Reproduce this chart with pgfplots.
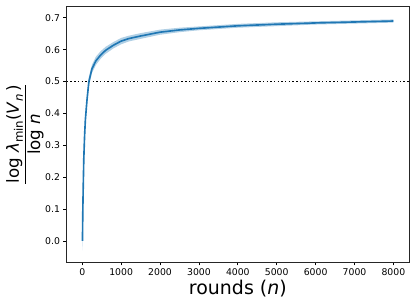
\documentclass[border=0pt]{standalone}
\usepackage{fontspec}
\setmainfont{DejaVu Sans}
\usepackage{pgfplots}
\pgfplotsset{compat=1.18}
\usepgfplotslibrary{fillbetween}
\definecolor{c0}{HTML}{1F77B4}
\begin{document}
\begin{tikzpicture}
\begin{axis}[
  at={(0pt,0pt)}, anchor=south west,
  width=379.2pt, height=282.8pt, scale only axis,
  xmin=-400, xmax=8400, ymin=-0.066, ymax=0.735,
  xtick={0,1000,...,8000},
  ytick={0,0.1,...,0.7},
  xtick pos=left, ytick pos=left,
  tick align=outside, major tick length=3.9pt,
  tick style={black, line width=0.8pt},
  axis line style={black!85, line width=0.9pt},
  /pgf/number format/assume math mode=true,
  x tick label style={font=\fontsize{10.3}{12}\selectfont, /pgf/number format/1000 sep={}},
  y tick label style={font=\fontsize{10.3}{12}\selectfont, /pgf/number format/.cd, fixed, fixed zerofill, precision=1},
  xlabel={rounds (\textit{n})},
  xlabel style={font=\fontsize{21}{24}\selectfont, yshift=2pt},
  ylabel={$\displaystyle\frac{\mbox{log \textit{λ}\raisebox{-0.25em}{\fontsize{13}{14}\selectfont min}(\textit{V}\raisebox{-0.25em}{\fontsize{13}{14}\selectfont\textit{n}}\,)}}{\mbox{log \textit{n}}}$},
  ylabel style={font=\fontsize{18.5}{22}\selectfont, yshift=-5pt},
]
\addplot[black, line width=1.6pt, dash pattern=on 1.6pt off 2.5pt] coordinates {(-400,0.5) (8400,0.5)};
\addplot[name path=hi, draw=none, forget plot] coordinates {
(5,0.030) (15,0.125) (25,0.195) (40,0.28) (60,0.35) (80,0.398) (120,0.457) (170,0.515) (250,0.553) (350,0.578) (470,0.595) (600,0.609) (800,0.624) (1000,0.637) (1200,0.644) (1500,0.652) (2000,0.663) (2500,0.669) (3000,0.673) (3500,0.677) (4000,0.681) (5000,0.686) (6000,0.689) (7000,0.692) (8000,0.695)};
\addplot[name path=lo, draw=none, forget plot] coordinates {
(5,-0.030) (15,0.075) (25,0.145) (40,0.24) (60,0.31) (80,0.362) (120,0.423) (170,0.485) (250,0.527) (350,0.552) (470,0.571) (600,0.587) (800,0.604) (1000,0.617) (1200,0.626) (1500,0.634) (2000,0.647) (2500,0.655) (3000,0.661) (3500,0.665) (4000,0.669) (5000,0.674) (6000,0.679) (7000,0.682) (8000,0.685)};
\addplot[c0, fill opacity=0.35, draw=none] fill between[of=hi and lo];
\addplot[c0, line width=1.8pt] coordinates {
(5,0.0) (15,0.1) (25,0.17) (40,0.26) (60,0.33) (80,0.38) (120,0.44) (170,0.50) (250,0.54) (350,0.565) (470,0.583) (600,0.598) (800,0.614) (1000,0.627) (1200,0.635) (1500,0.643) (2000,0.655) (2500,0.662) (3000,0.667) (3500,0.671) (4000,0.675) (5000,0.680) (6000,0.684) (7000,0.687) (8000,0.690)};
\end{axis}
\pgfresetboundingbox
\path (-73.9pt,-51pt) rectangle (387pt,290.2pt);
\end{tikzpicture}
\end{document}
